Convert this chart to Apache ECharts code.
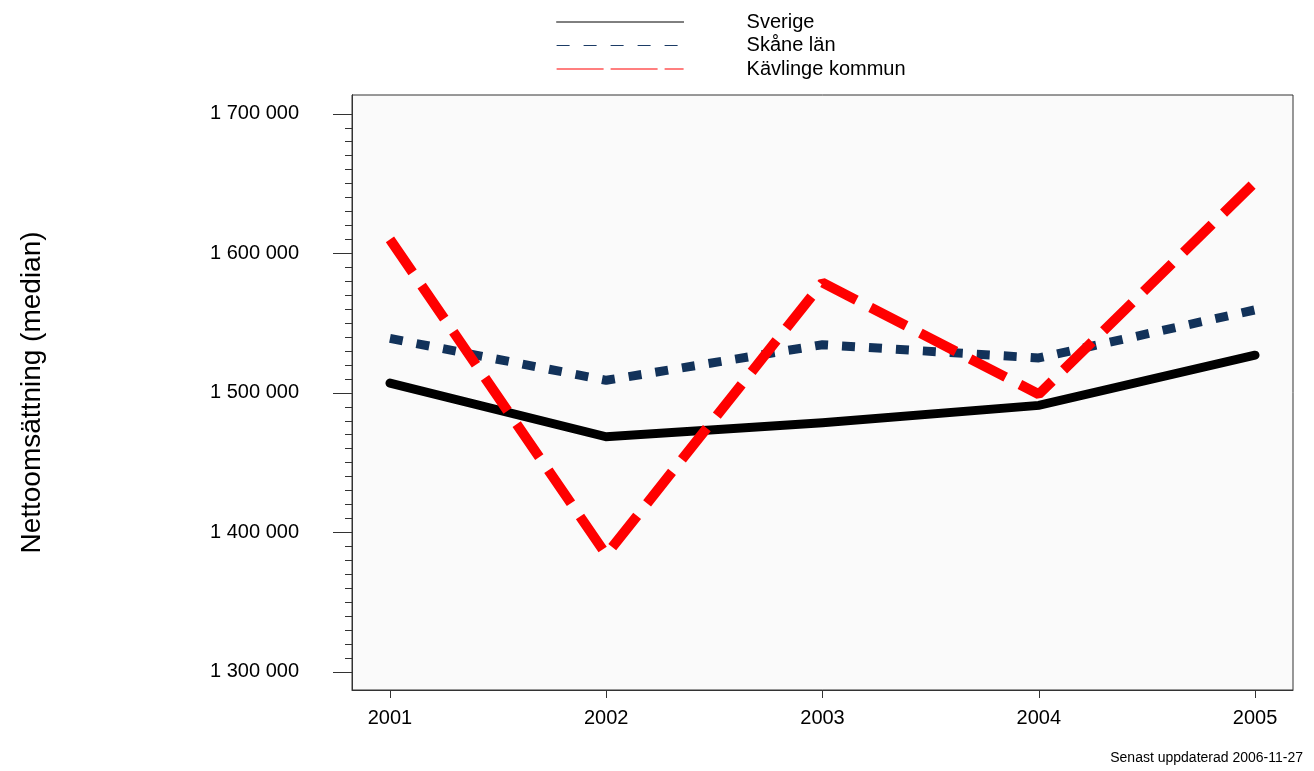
<!DOCTYPE html>
<html>
<head>
<meta charset="utf-8">
<script src="https://cdn.jsdelivr.net/npm/echarts@6/dist/echarts.min.js"></script>
<style>
  html, body { margin: 0; padding: 0; background: #fff; }
  #chart { width: 1314px; height: 771px; }
</style>
</head>
<body>
<div id="chart"></div>
<script>
const years = [2001, 2002, 2003, 2004, 2005]
const sverige = [1507000, 1468500, 1478500, 1491000, 1527000]
const skane = [1539000, 1509000, 1534500, 1525000, 1559500]
const kavlinge = [1610000, 1384000, 1579000, 1499000, 1651000]
const yMajorTicks = [1300000, 1400000, 1500000, 1600000, 1700000]
const yMinorTicks = []
for (let v = 1300000; v <= 1700000; v += 10000) yMinorTicks.push(v)

const FONT = '"Liberation Sans", Arial, sans-serif'
const pairs = (vals) => years.map((y, i) => [y, vals[i]])
const fmt = (v) => String(v).replace(/\B(?=(\d{3})+(?!\d))/g, ' ')

const yBase = {
  type: 'value',
  min: 1287000,
  max: 1713500,
  splitLine: { show: false },
  axisLine: { show: true, lineStyle: { color: '#333', width: 1 } },
}

const chart = echarts.init(document.getElementById('chart'))
chart.setOption({
  backgroundColor: '#fff',
  animation: false,
  textStyle: { fontFamily: FONT, color: '#000' },
  title: {
    text: 'Senast uppdaterad 2006-11-27',
    right: 6,
    bottom: 1,
    textStyle: { fontSize: 14, fontWeight: 'normal', color: '#000', fontFamily: FONT },
  },
  legend: {
    orient: 'vertical',
    left: 556,
    top: 12,
    padding: 0,
    itemWidth: 127,
    itemHeight: 14,
    itemGap: 3.5,
    textStyle: { fontSize: 20, color: '#000', fontFamily: FONT, padding: [0, 0, 0, 58] },
    data: [
      { name: 'Sverige', itemStyle: { opacity: 0 }, lineStyle: { width: 1, type: 'solid', color: '#000' } },
      { name: 'Skåne län', itemStyle: { opacity: 0 }, lineStyle: { width: 1.2, type: [13, 14], color: '#1c3c66' } },
      { name: 'Kävlinge kommun', itemStyle: { opacity: 0 }, lineStyle: { width: 1.2, type: [47, 7], color: '#ff0000' } },
    ],
  },
  grid: {
    left: 352,
    top: 95,
    right: 21,
    bottom: 81,
    show: true,
    backgroundColor: '#fafafa',
    borderColor: '#333',
    borderWidth: 1,
  },
  xAxis: {
    type: 'value',
    min: 2000.8245,
    max: 2005.1755,
    splitLine: { show: false },
    axisLine: { show: true, onZero: false, lineStyle: { color: '#333' } },
    axisTick: { show: true, length: 8, customValues: years, lineStyle: { color: '#333' } },
    axisLabel: {
      customValues: years,
      formatter: (v) => String(v),
      fontSize: 20,
      color: '#000',
      margin: 18,
      fontFamily: FONT,
    },
  },
  yAxis: [
    {
      ...yBase,
      name: 'Nettoomsättning (median)',
      nameLocation: 'middle',
      nameGap: 306,
      nameTextStyle: { fontSize: 28, color: '#000', fontFamily: FONT },
      axisTick: { show: true, length: 19, customValues: yMajorTicks, lineStyle: { color: '#333' } },
      axisLabel: {
        customValues: yMajorTicks,
        formatter: fmt,
        fontSize: 20,
        color: '#000',
        margin: 53,
        fontFamily: FONT,
      },
    },
    {
      ...yBase,
      position: 'left',
      axisTick: { show: true, length: 7, customValues: yMinorTicks, lineStyle: { color: '#333' } },
      axisLabel: { show: false },
    },
  ],
  series: [
    {
      name: 'Sverige',
      type: 'line',
      data: pairs(sverige),
      symbol: 'none',
      lineStyle: { color: '#000', width: 9, cap: 'round', join: 'miter' },
      itemStyle: { color: '#000' },
      z: 3,
    },
    {
      name: 'Skåne län',
      type: 'line',
      data: pairs(skane),
      symbol: 'none',
      lineStyle: { color: '#12325a', width: 9, type: [13, 14], cap: 'butt' },
      itemStyle: { color: '#12325a' },
      z: 4,
    },
    {
      name: 'Kävlinge kommun',
      type: 'line',
      data: pairs(kavlinge),
      symbol: 'none',
      lineStyle: { color: '#ff0000', width: 10, type: [40, 16], cap: 'butt' },
      itemStyle: { color: '#ff0000' },
      z: 5,
    },
  ],
})
</script>
</body>
</html>
